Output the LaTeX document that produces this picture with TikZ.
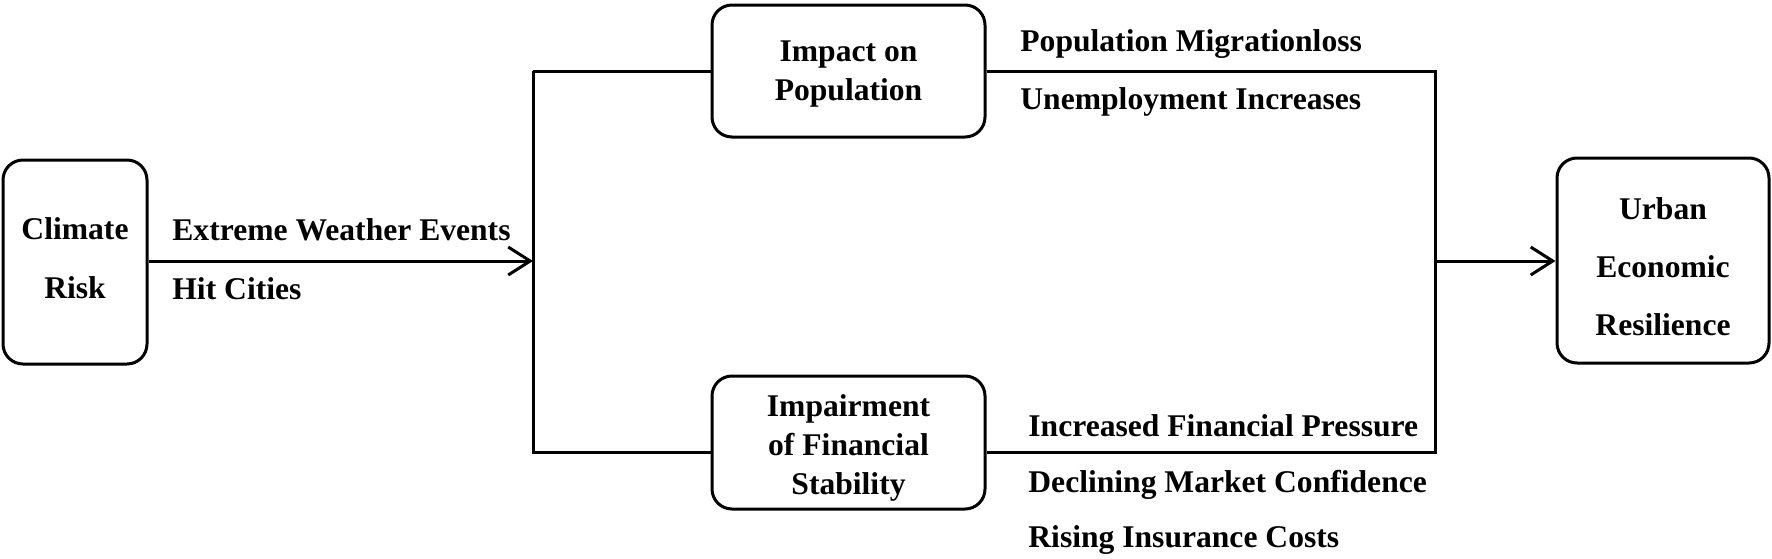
\documentclass[tikz,border=0pt]{standalone}
\usepackage{fontspec}
\setmainfont{Liberation Serif}
\usetikzlibrary{arrows.meta}
\begin{document}
\begin{tikzpicture}[x=0.5pt,y=-0.5pt,
  box/.style={draw,line width=1.5pt,rounded corners=10pt,inner sep=0pt},
  txt/.style={align=center,inner sep=0pt,font=\bfseries\fontsize{15.8}{19.5}\selectfont},
  lbl/.style={anchor=base west,inner sep=0pt,font=\bfseries\fontsize{15.8}{19}\selectfont},
  conn/.style={line width=1.5pt},
  arr/.style={conn,-{Straight Barb[length=11pt,width=14pt,line width=1.5pt]}}]
\useasboundingbox (0,0) rectangle (1772,558);
% boxes
\node[box,minimum width=72pt,minimum height=102pt] (climate) at (75,262) {};
\node[box,minimum width=136.5pt,minimum height=66pt] (impact) at (848.5,71) {};
\node[box,minimum width=136.5pt,minimum height=66.5pt] (impair) at (848.5,442.5) {};
\node[box,minimum width=106pt,minimum height=102.5pt] (urban) at (1663,260.5) {};
% box texts
\node[txt] (climatet) at (75,258) {Climate\\[10pt]Risk};
\node[txt] (impactt) at (848.5,74) {Impact on\\Population};
\node[txt] (impairt) at (848.5,448) {Impairment\\of Financial\\Stability};
\node[txt] (urbant) at (1663,266.5) {Urban\\[9.5pt]Economic\\[9.5pt]Resilience};
% junction points
\coordinate (jl) at (533,261);
\coordinate (tl) at (533,71);
\coordinate (bl) at (533,454);
\coordinate (tr) at (1435,71);
\coordinate (br) at (1435,452);
\coordinate (jr) at (1435,261);
% connectors
\draw[arr] (climate.east |- jl) -- (jl);
\draw[conn] (tl) -- (bl);
\draw[conn] (tl) -- (impact.west);
\draw[conn] (bl |- br) -- (impair.west |- br);
\draw[conn] (impact.east) -- (tr) -- (br) -- (impair.east |- br);
\draw[arr] (jr) -- (urban.west |- jr);
% labels
\node[lbl] (l1) at (172,240) {Extreme Weather Events};
\node[lbl] (l2) at (172,299) {Hit Cities};
\node[lbl] (l3) at (1020,51) {Population Migrationloss};
\node[lbl] (l4) at (1020,109) {Unemployment Increases};
\node[lbl] (l5) at (1028,436) {Increased Financial Pressure};
\node[lbl] (l6) at (1028,492) {Declining Market Confidence};
\node[lbl] (l7) at (1028,547) {Rising Insurance Costs};
\end{tikzpicture}
\end{document}
